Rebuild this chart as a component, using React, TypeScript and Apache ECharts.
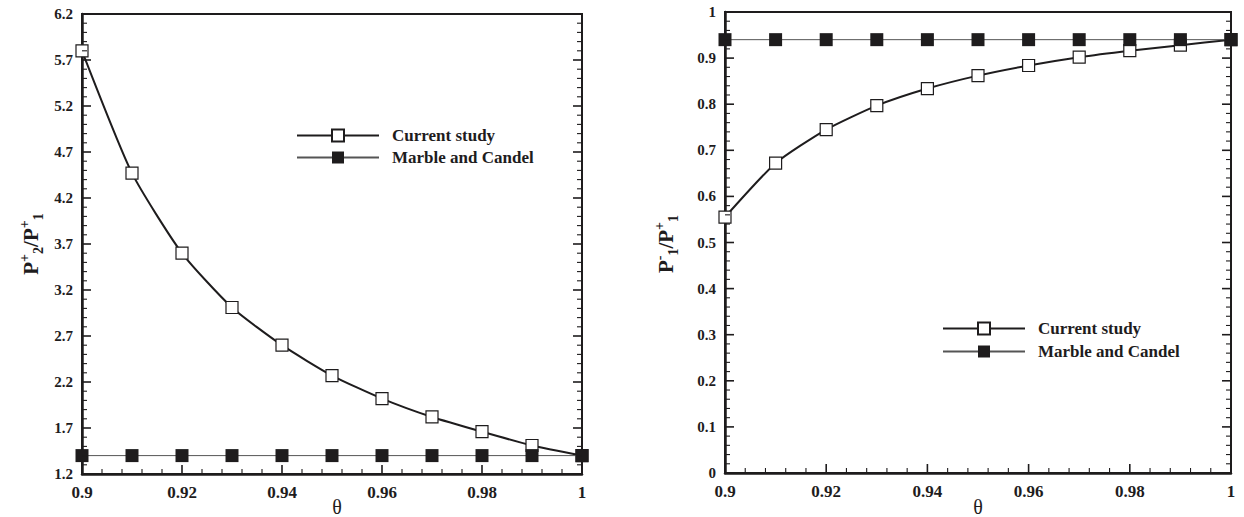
import React, { useEffect, useRef } from "react";
import * as echarts from "echarts";

const theta = [0.9, 0.91, 0.92, 0.93, 0.94, 0.95, 0.96, 0.97, 0.98, 0.99, 1.0];
const leftCurrent = [5.8, 4.47, 3.6, 3.01, 2.6, 2.27, 2.02, 1.82, 1.66, 1.51, 1.4];
const leftMarble = [1.4, 1.4, 1.4, 1.4, 1.4, 1.4, 1.4, 1.4, 1.4, 1.4, 1.4];
const rightCurrent = [0.555, 0.672, 0.745, 0.797, 0.834, 0.862, 0.884, 0.902, 0.916, 0.928, 0.94];
const rightMarble = [0.94, 0.94, 0.94, 0.94, 0.94, 0.94, 0.94, 0.94, 0.94, 0.94, 0.94];
const xTicks = [0.9, 0.92, 0.94, 0.96, 0.98, 1.0];
const leftYTicks = [1.2, 1.7, 2.2, 2.7, 3.2, 3.7, 4.2, 4.7, 5.2, 5.7, 6.2];
const rightYTicks = [0, 0.1, 0.2, 0.3, 0.4, 0.5, 0.6, 0.7, 0.8, 0.9, 1];
const seriesNames = ["Current study", "Marble and Candel"];

const INK = "#1e1c1d";
const FONT = "'Liberation Serif', 'Times New Roman', serif";
const MINOR_SPLIT = 5;
const GRIDS = [
  { left: 82, top: 14, width: 500, height: 460 },
  { left: 725, top: 12, width: 506, height: 461 },
];
const X_MIN = 0.9;
const X_MAX = 1.0;

function fmt(v: number) {
  return String(parseFloat(v.toFixed(3)));
}

function minorsOf(majors: number[]) {
  const out: number[] = [];
  for (let i = 0; i < majors.length - 1; i++) {
    const a = majors[i];
    const b = majors[i + 1];
    for (let k = 1; k < MINOR_SPLIT; k++) out.push(a + ((b - a) * k) / MINOR_SPLIT);
  }
  return out;
}

export default function App() {
  const ref = useRef<HTMLDivElement>(null);
  useEffect(() => {
    if (!ref.current) return;
    const chart = echarts.init(ref.current, null, { renderer: "svg" });

    const xAxis = (grid: number) => ({
      type: "value",
      gridIndex: grid,
      position: "bottom",
      min: X_MIN,
      max: X_MAX,
      interval: 0.02,
      axisLine: { show: true, onZero: false, lineStyle: { color: INK, width: 2.5 } },
      axisTick: { show: false },
      axisLabel: {
        show: true,
        margin: 10,
        color: INK,
        fontFamily: FONT,
        fontWeight: "bold",
        fontSize: 17,
        formatter: (v: number) => fmt(v),
      },
      splitLine: { show: false },
    });
    const yAxis = (grid: number, min: number, max: number, ticks: number[]) => ({
      type: "value",
      gridIndex: grid,
      position: "left",
      min,
      max,
      axisLine: { show: true, onZero: false, lineStyle: { color: INK, width: 2.5 } },
      axisTick: { show: false },
      axisLabel: {
        show: true,
        margin: 9,
        color: INK,
        fontFamily: FONT,
        fontWeight: "bold",
        fontSize: 15,
        customValues: ticks,
        formatter: (v: number) => fmt(v),
      },
      splitLine: { show: false },
    });

    const currentSeries = (name: string, idx: number, vals: number[]) => ({
      type: "line",
      name,
      xAxisIndex: idx,
      yAxisIndex: idx,
      data: theta.map((t, i) => [t, vals[i]]),
      smooth: 0.2,
      symbol: "rect",
      symbolSize: 12,
      showAllSymbol: true,
      lineStyle: { color: INK, width: 2 },
      itemStyle: { color: "#ffffff", borderColor: INK, borderWidth: 1.2 },
      z: 3,
    });
    const marbleSeries = (name: string, idx: number, vals: number[]) => ({
      type: "line",
      name,
      xAxisIndex: idx,
      yAxisIndex: idx,
      data: theta.map((t, i) => [t, vals[i]]),
      symbol: "rect",
      symbolSize: 13,
      showAllSymbol: true,
      lineStyle: { color: "#555555", width: 1 },
      itemStyle: { color: INK, borderColor: INK, borderWidth: 0 },
      z: 4,
    });

    const legendBase = {
      orient: "vertical",
      selectedMode: false,
      padding: 0,
      itemWidth: 82,
      itemHeight: 15,
      textStyle: {
        color: INK,
        fontFamily: FONT,
        fontWeight: "bold",
        fontSize: 17,
        padding: [0, 0, 0, 8],
      },
      data: seriesNames,
    };

    chart.setOption({
      animation: false,
      grid: GRIDS.map((g) => ({ ...g, show: true, borderColor: INK, borderWidth: 2, backgroundColor: "transparent" })),
      xAxis: [xAxis(0), xAxis(1)],
      yAxis: [yAxis(0, 1.2, 6.2, leftYTicks), yAxis(1, 0, 1, rightYTicks)],
      legend: [
        { ...legendBase, left: 296, top: 127, itemGap: 5 },
        { ...legendBase, left: 942, top: 320, itemGap: 6 },
      ],
      series: [
        currentSeries(seriesNames[0], 0, leftCurrent),
        marbleSeries(seriesNames[1], 0, leftMarble),
        currentSeries(seriesNames[0], 1, rightCurrent),
        marbleSeries(seriesNames[1], 1, rightMarble),
      ],
    });

    // Inward tick marks on bottom, left and right edges, drawn as thin filled rects
    const tickEls: any[] = [];
    const addRect = (x: number, y: number, w: number, h: number) => {
      tickEls.push({
        type: "rect",
        silent: true,
        z: 100,
        shape: { x, y, width: w, height: h },
        style: { fill: INK, stroke: null, lineWidth: 0 },
      });
    };
    const panels = [
      { idx: 0, yMin: 1.2, yMax: 6.2, yTicks: leftYTicks },
      { idx: 1, yMin: 0, yMax: 1, yTicks: rightYTicks },
    ];
    panels.forEach((p) => {
      const g = GRIDS[p.idx];
      const toPx = (x: number, y: number) => {
        const fx = g.left + ((x - X_MIN) / (X_MAX - X_MIN)) * g.width;
        const fy = g.top + ((p.yMax - y) / (p.yMax - p.yMin)) * g.height;
        let q: any = null;
        try {
          q = chart.convertToPixel({ gridIndex: p.idx } as any, [x, y]);
        } catch (e) {
          q = null;
        }
        if (
          !q || !Number.isFinite(q[0]) || !Number.isFinite(q[1]) ||
          Math.abs(q[0] - fx) > 3 || Math.abs(q[1] - fy) > 3
        ) {
          q = [fx, fy];
        }
        return q as number[];
      };
      const xs = [
        ...xTicks.map((v) => ({ v, major: true })),
        ...minorsOf(xTicks).map((v) => ({ v, major: false })),
      ];
      xs.forEach(({ v, major }) => {
        const q = toPx(v, p.yMin);
        const w = major ? 1.6 : 1.1;
        const len = major ? 9 : 5;
        addRect(q[0] - w / 2, q[1] - len, w, len);
      });
      const ys = [
        ...p.yTicks.map((v) => ({ v, major: true })),
        ...minorsOf(p.yTicks).map((v) => ({ v, major: false })),
      ];
      ys.forEach(({ v, major }) => {
        const w = major ? 1.6 : 1.1;
        const len = major ? 9 : 5;
        const l = toPx(X_MIN, v);
        addRect(l[0], l[1] - w / 2, len, w);
        const r = toPx(X_MAX, v);
        addRect(r[0] - len, r[1] - w / 2, len, w);
      });
    });

    const yName = (x: number, y: number, txt: string) => ({
      type: "text",
      x,
      y,
      rotation: Math.PI / 2,
      style: {
        text: txt,
        align: "center",
        verticalAlign: "middle",
        fill: INK,
        rich: {
          b: { fontFamily: FONT, fontWeight: "bold", fontSize: 21, lineHeight: 28, fill: INK, verticalAlign: "middle" },
          sup: { fontFamily: FONT, fontWeight: "bold", fontSize: 14, lineHeight: 28, fill: INK, verticalAlign: "top" },
          sub: { fontFamily: FONT, fontWeight: "bold", fontSize: 14, lineHeight: 28, fill: INK, verticalAlign: "bottom" },
        },
      },
    });

    chart.setOption({
      graphic: {
        elements: [
          yName(31, 244, "{b|P}{sup|+}{sub|2}{b|/P}{sup|+}{sub|1}"),
          yName(666, 244, "{b|P}{sup|-}{sub|1}{b|/P}{sup|+}{sub|1}"),
          {
            type: "text", x: 337, y: 507,
            style: { text: "θ", align: "center", verticalAlign: "middle", fill: INK, fontFamily: FONT, fontSize: 20 },
          },
          {
            type: "text", x: 978, y: 507,
            style: { text: "θ", align: "center", verticalAlign: "middle", fill: INK, fontFamily: FONT, fontSize: 20 },
          },
          ...tickEls,
        ],
      },
    });

    return () => chart.dispose();
  }, []);

  return (
    <div
      ref={ref}
      style={{ position: "fixed", left: 0, top: 0, width: 1244, height: 517, background: "#fff" }}
    />
  );
}
